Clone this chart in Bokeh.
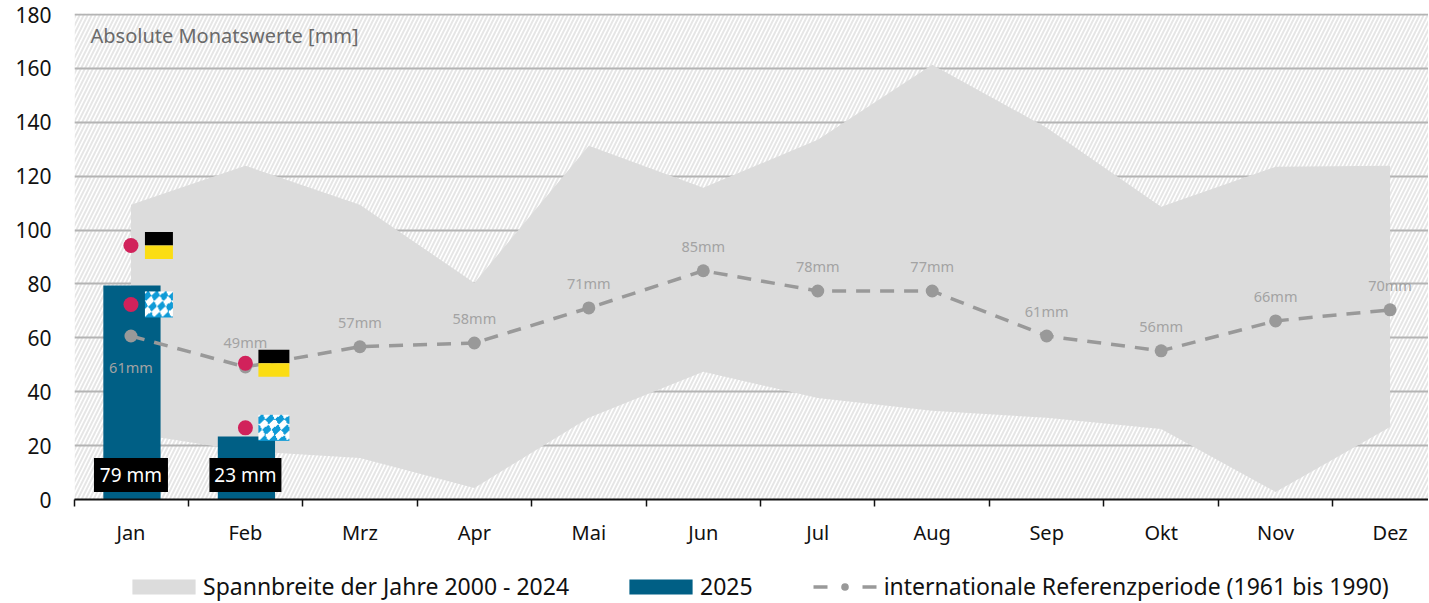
import numpy as np
from bokeh.core.properties import value
from bokeh.embed import file_html
from bokeh.layouts import column
from bokeh.models import (ColumnDataSource, FixedTicker, Legend, LegendItem, Range1d)
from bokeh.plotting import figure
from bokeh.resources import INLINE

months = ["Jan", "Feb", "Mrz", "Apr", "Mai", "Jun", "Jul", "Aug", "Sep", "Okt", "Nov", "Dez"]
range_upper = [109.4, 123.9, 109.4, 80.4, 131.3, 115.7, 133.5, 161.4, 138.0, 108.7, 123.5, 123.9]
range_lower = [24.7, 18.0, 15.4, 4.3, 30.3, 47.4, 37.7, 32.9, 30.3, 26.2, 2.8, 26.9]
reference = [60.7, 49.2, 56.7, 58.1, 71.1, 84.9, 77.4, 77.4, 60.7, 55.2, 66.3, 70.4]
reference_labels = ["61mm", "49mm", "57mm", "58mm", "71mm", "85mm", "78mm", "77mm", "61mm", "56mm", "66mm", "70mm"]
bars_2025 = [79.4, 23.4]
bar_labels = ["79 mm", "23 mm"]
dots_germany = [94.3, 50.6]
dots_bavaria = [72.4, 26.6]
y_ticks = list(range(0, 181, 20))

FONT = "Noto Sans"
BAND = "#dcdcdc"
BAR = "#005f85"
REF = "#999999"
idx = np.arange(len(months))
PX = 114.55            # pixels per month
PY = 484.5 / 180       # pixels per mm
x0 = (74 - 130.5) / PX
x1 = (1429 - 130.5) / PX
y1 = 180.4

p = figure(width=1428, height=572, output_backend="svg", toolbar_location=None,
           x_range=Range1d(x0, x1), y_range=Range1d(0, y1),
           min_border_left=74, min_border_right=0, min_border_top=13, min_border_bottom=73,
           outline_line_color=None, background_fill_color="white", border_fill_color="white")

# hatched backdrop
p.quad(left=[x0], right=[x1], bottom=[0], top=[y1], fill_color="white", line_color=None,
       hatch_pattern="right_diagonal_line", hatch_color="#e6e6e6", hatch_weight=2, hatch_scale=8,
       level="image")

p.xgrid.visible = False
p.ygrid.ticker = FixedTicker(ticks=y_ticks)
p.ygrid.grid_line_color = "#b4b4b4"
p.ygrid.grid_line_width = 2
p.ygrid.level = "underlay"

p.varea(x=idx, y1=range_lower, y2=range_upper, fill_color=BAND)
p.vbar(x=idx[:2] + 1 / PX, top=bars_2025, bottom=0, width=0.5, fill_color=BAR, line_color=None)

p.line(idx, reference, line_color=REF, line_width=3.5, line_dash="14 10")
p.scatter(idx, reference, size=13, fill_color=REF, line_color=None)

label_shift = [31 if i == 0 else -25 for i in idx]
p.text(x="x", y="y", text="t", y_offset="dy",
       source=ColumnDataSource(dict(x=idx, y=reference, t=reference_labels, dy=label_shift)),
       text_font=value(FONT), text_font_size="14.5px", text_color="#a3a3a3",
       text_align="center", text_baseline="middle")

p.text(x=[x0 + 16 / PX], y=[172.4], text=["Absolute Monatswerte [mm]"], text_font=value(FONT),
       text_font_size="20px", text_color="#6a6a6a", text_align="left", text_baseline="middle")

# region dots and flags
dot_x = np.concatenate([idx[:2], idx[:2]])
dot_y = dots_germany + dots_bavaria
p.scatter(dot_x, dot_y, size=15, fill_color="#d1225b", line_color=None)

flag_left = idx[:2] + np.array([14, 13]) / PX
flag_w = np.array([28, 31]) / PX
flag_h = 27 / PY
de_y = np.array(dots_germany)
p.quad(left=flag_left, right=flag_left + flag_w, bottom=de_y, top=de_y + flag_h / 2,
       fill_color="#000000", line_color=None)
p.quad(left=flag_left, right=flag_left + flag_w, bottom=de_y - flag_h / 2, top=de_y,
       fill_color="#fbdd14", line_color=None)

# Bavarian lozenge pattern
H, W = 52, 60
yy, xx = np.mgrid[0:H, 0:W]
u = (xx + 0.55 * yy) / 18.0
v = (xx - 1.15 * yy) / 18.0
mask = (np.floor(u) + np.floor(v)) % 2 == 0
rgba = np.zeros((H, W), dtype=np.uint32)
view = rgba.view(dtype=np.uint8).reshape((H, W, 4))
view[..., 3] = 255
view[mask, :3] = (15, 155, 215)
view[~mask, :3] = (255, 255, 255)
by_y = np.array(dots_bavaria)
for left, w, yc in zip(flag_left, flag_w, by_y):
    p.image_rgba(image=[rgba], x=left, y=yc - 13 / PY, dw=w, dh=26 / PY)

# value boxes on the bars
box_y = 9.1
p.rect(x=idx[:2], y=box_y, width=[74, 72], height=34, width_units="screen", height_units="screen",
       fill_color="#000000", line_color=None)
p.text(x=idx[:2], y=box_y, text=bar_labels, text_font=value(FONT), text_font_size="19px",
       text_color="#ffffff", text_align="center", text_baseline="middle")

# axes
p.yaxis.ticker = FixedTicker(ticks=y_ticks)
p.yaxis.axis_line_color = None
p.yaxis.major_tick_line_color = None
p.yaxis.minor_tick_line_color = None
p.yaxis.major_label_text_font = FONT
p.yaxis.major_label_text_font_size = "21px"
p.yaxis.major_label_text_color = "#111111"
p.yaxis.major_label_standoff = 17

boundaries = [x0] + [i + 0.5 for i in range(11)]
p.xaxis.ticker = FixedTicker(ticks=list(idx), minor_ticks=boundaries)
p.xaxis.major_label_overrides = {int(i): m for i, m in zip(idx, months)}
p.xaxis.axis_line_color = "#111111"
p.xaxis.axis_line_width = 2
p.xaxis.major_tick_line_color = None
p.xaxis.minor_tick_line_color = "#111111"
p.xaxis.minor_tick_line_width = 1.5
p.xaxis.minor_tick_out = 7
p.xaxis.minor_tick_in = 0
p.xaxis.major_label_text_font = FONT
p.xaxis.major_label_text_font_size = "20px"
p.xaxis.major_label_text_color = "#111111"
p.xaxis.major_label_standoff = 12

# legend strip under the chart
off = [5, 6]
lg = figure(width=1428, height=30, output_backend="svg", toolbar_location=None,
            x_range=Range1d(0, 1), y_range=Range1d(0, 1), x_axis_type=None, y_axis_type=None,
            min_border=0, outline_line_color=None)
lg.grid.visible = False
r_band = lg.varea(x=off, y1=off, y2=off, fill_color=BAND)
r_bar = lg.vbar(x=off, top=off, bottom=off, width=0.5, fill_color=BAR, line_color=None)
r_line = lg.line(off, off, line_color=REF, line_width=3.5, line_dash="0 8 14 35 14 8")
r_dot = lg.scatter(off, off, size=13, fill_color=REF, line_color=None)
legend = Legend(items=[
    LegendItem(label="Spannbreite der Jahre 2000 - 2024", renderers=[r_band]),
    LegendItem(label="2025", renderers=[r_bar]),
    LegendItem(label="internationale Referenzperiode (1961 bis 1990)", renderers=[r_line, r_dot]),
], orientation="horizontal", location=(50, 0), glyph_width=79, glyph_height=19,
    label_standoff=0, spacing=52, padding=0, margin=0, background_fill_alpha=0,
    border_line_color=None, label_text_font=FONT, label_text_font_size="23px",
    label_text_color="#111111")
lg.add_layout(legend, "center")

open("out.html", "w").write(file_html(column(p, lg, spacing=0), INLINE))
